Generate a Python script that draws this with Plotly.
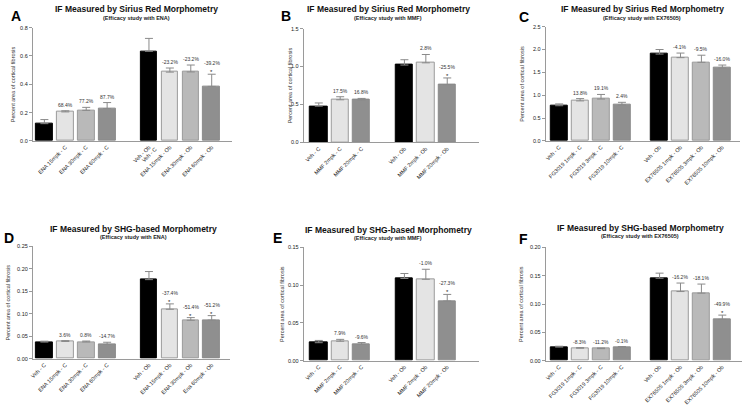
import plotly.graph_objects as go

W, H = 742, 409
FONT = "Liberation Sans, Arial, sans-serif"

# ---------------- data ----------------
a_labels = ["Veh - C", "ENA 15mpk - C", "ENA 30mpk - C", "ENA 60mpk - C",
            "Veh - Ob", "ENA 15mpk - Ob", "ENA 30mpk - Ob", "ENA 60mpk - Ob"]
a_means = [0.122, 0.205, 0.216, 0.229, 0.633, 0.486, 0.487, 0.385]
a_sem = [0.029, 0.008, 0.021, 0.042, 0.091, 0.029, 0.049, 0.086]
a_pct = ["", "68.4%", "77.2%", "87.7%", "", "-23.2%", "-23.2%", "-39.2%"]
a_sig = [0, 0, 0, 0, 0, 0, 0, 1]

b_labels = ["Veh - C", "MMF 2mpk - C", "MMF 20mpk - C",
            "Veh - Ob", "MMF 2mpk - Ob", "MMF 20mpk - Ob"]
b_means = [0.478, 0.562, 0.558, 1.020, 1.049, 0.760]
b_sem = [0.042, 0.040, 0.022, 0.070, 0.110, 0.090]
b_pct = ["", "17.5%", "16.8%", "", "2.8%", "-25.5%"]
b_sig = [0, 0, 0, 0, 0, 1]

c_labels = ["Veh - C", "FG3019 1mpk - C", "FG3019 3mpk - C", "FG3019 10mpk - C",
            "Veh - Ob", "EX76505 1mpk - Ob", "EX76505 3mpk - Ob", "EX76505 10mpk - Ob"]
c_means = [0.770, 0.876, 0.917, 0.788, 1.900, 1.822, 1.720, 1.596]
c_sem = [0.040, 0.050, 0.100, 0.057, 0.100, 0.100, 0.155, 0.064]
c_pct = ["", "13.8%", "19.1%", "2.4%", "", "-4.1%", "-9.5%", "-16.0%"]
c_sig = [0, 0, 0, 0, 0, 0, 0, 0]

d_labels = ["Veh - C", "ENA 15mpk - C", "ENA 30mpk - C", "ENA 60mpk - C",
            "Veh - Ob", "ENA 15mpk - Ob", "ENA 30mpk - Ob", "Ena 60mpk - Ob"]
d_means = [0.0370, 0.0383, 0.0373, 0.0316, 0.176, 0.110, 0.0855, 0.0859]
d_sem = [0.0020, 0.0020, 0.0020, 0.0050, 0.018, 0.012, 0.0060, 0.0100]
d_pct = ["", "3.6%", "0.8%", "-14.7%", "", "-37.4%", "-51.4%", "-51.2%"]
d_sig = [0, 0, 0, 0, 0, 1, 1, 1]

e_labels = ["Veh - C", "MMF 2mpk - C", "MMF 20mpk - C",
            "Veh - Ob", "MMF 2mpk - Ob", "MMF 20mpk - Ob"]
e_means = [0.0238, 0.0257, 0.0215, 0.1088, 0.1077, 0.0790]
e_sem = [0.0030, 0.0025, 0.0025, 0.0066, 0.0133, 0.0087]
e_pct = ["", "7.9%", "-9.6%", "", "-1.0%", "-27.3%"]
e_sig = [0, 0, 0, 0, 0, 1]

f_labels = ["Veh - C", "FG3019 1mpk - C", "FG3019 3mpk - C", "FG3019 10mpk - C",
            "Veh - Ob", "EX76505 1mpk - Ob", "EX76505 3mpk - Ob", "EX76505 10mpk - Ob"]
f_means = [0.0240, 0.0220, 0.0213, 0.0240, 0.1455, 0.1220, 0.1192, 0.0729]
f_sem = [0.0015, 0.0010, 0.0010, 0.0010, 0.0090, 0.0150, 0.0160, 0.0075]
f_pct = ["", "-8.3%", "-11.2%", "-0.1%", "", "-16.2%", "-18.1%", "-49.9%"]
f_sig = [0, 0, 0, 0, 0, 0, 0, 1]

titles = ["IF Measured by Sirius Red Morphometry"] * 3 + ["IF Measured by SHG-based Morphometry"] * 3
subtitles = ["(Efficacy study with ENA)", "(Efficacy study with MMF)", "(Efficacy study with EX76505)",
             "(Efficacy study with ENA)", "(Efficacy study with MMF)", "(Efficacy study with EX76505)"]
letters = ["A", "B", "C", "D", "E", "F"]
y_title = "Percent area of cortical fibrosis"
y_max = [0.8, 1.5, 2.5, 0.25, 0.15, 0.20]
y_dtick = [0.2, 0.5, 0.5, 0.05, 0.05, 0.05]
y_fmt = [".1f", ".1f", ".1f", ".2f", ".2f", ".2f"]

data = [
    (a_labels, a_means, a_sem, a_pct, a_sig, 4),
    (b_labels, b_means, b_sem, b_pct, b_sig, 3),
    (c_labels, c_means, c_sem, c_pct, c_sig, 4),
    (d_labels, d_means, d_sem, d_pct, d_sig, 4),
    (e_labels, e_means, e_sem, e_pct, e_sig, 3),
    (f_labels, f_means, f_sem, f_pct, f_sig, 4),
]

# ---------------- layout geometry (pixels) ----------------
# x0, x1, ytop, ybottom, range_left, pitch, group gap
geom = [
    (30, 230, 25, 140, -0.55, 21.0, 1.0),
    (302, 478, 26, 141.5, -0.70, 21.5, 1.0),
    (545, 740, 24, 140, -0.64, 21.0, 0.8),
    (30, 228, 247, 361, -0.55, 21.0, 1.0),
    (302, 478, 248, 363, -0.70, 21.5, 1.0),
    (545, 742, 248, 363, -0.64, 21.0, 0.8),
]
title_pos = [(134, 6, 15), (387, 6, 15), (642, 6, 15),
             (131, 229.5, 237), (387, 230, 238), (640, 228.5, 236.5)]
letter_pos = [(13.5, 13), (284, 13), (523, 14), (6, 238), (276, 239), (523, 240)]
ylab_x = [10, 288, 521, 5, 280, 520]

FILL4 = ["#000000", "#e4e4e4", "#b9b9b9", "#8f8f8f"]
FILL3 = ["#000000", "#e4e4e4", "#8f8f8f"]
EDGE4 = ["#000000", "#9a9a9a", "#9a9a9a", "#8a8a8a"]
EDGE3 = ["#000000", "#9a9a9a", "#8a8a8a"]


def fx(p):
    return p / W


def fy(p):
    return 1 - p / H


fig = go.Figure()
annotations = []
layout = {}

for i, (labels, means, sem, pct, sig, n_c) in enumerate(data):
    x0, x1, yt, yb, left, pitch, gap = geom[i]
    n_ob = len(labels) - n_c
    xs = list(range(n_c)) + [n_c + gap + k for k in range(n_ob)]
    fills = (FILL4 if n_c == 4 else FILL3)
    edges = (EDGE4 if n_c == 4 else EDGE3)
    colors = fills[:n_c] + fills[:n_ob]
    lines = edges[:n_c] + edges[:n_ob]
    suf = "" if i == 0 else str(i + 1)
    xa, ya = "x" + suf, "y" + suf
    fig.add_trace(go.Bar(
        x=xs, y=means, width=0.8, xaxis=xa, yaxis=ya,
        marker=dict(color=colors, line=dict(color=lines, width=1)),
        error_y=dict(type="data", array=sem, arrayminus=[0] * len(sem), symmetric=False,
                     color="#8a8a8a", thickness=1, width=4),
        showlegend=False, hoverinfo="skip"))
    right = left + (x1 - x0) / pitch
    ticktext = list(labels)
    if i == 0:
        ticktext[0] = ""
    layout["xaxis" + suf] = dict(
        domain=[fx(x0), fx(x1)], range=[left, right], anchor=ya,
        showline=True, linecolor="#9a9a9a", linewidth=1, ticks="",
        tickvals=xs, ticktext=ticktext, tickangle=-45,
        tickfont=dict(size=5.5, color="#222", family=FONT),
        showgrid=False, zeroline=False, fixedrange=True)
    layout["yaxis" + suf] = dict(
        domain=[fy(yb), fy(yt)], range=[0, y_max[i]], anchor=xa,
        showline=True, linecolor="#9a9a9a", linewidth=1, ticks="outside",
        ticklen=3, tickcolor="#9a9a9a", tickwidth=1, dtick=y_dtick[i], tick0=0,
        tickformat=y_fmt[i], tickfont=dict(size=5.5, color="#222", family=FONT),
        showgrid=False, zeroline=False, fixedrange=True)

    for k in range(len(labels)):
        top = means[k] + sem[k]
        if sig[k]:
            annotations.append(dict(x=xs[k], y=top, xref=xa, yref=ya, text="*",
                                    showarrow=False, yanchor="bottom", yshift=-3,
                                    font=dict(size=6, color="#222", family=FONT)))
        if pct[k]:
            annotations.append(dict(x=xs[k], y=top, xref=xa, yref=ya, text=pct[k],
                                    showarrow=False, yanchor="bottom",
                                    yshift=6 if sig[k] else 1,
                                    font=dict(size=5, color="#333", family=FONT)))

    tx, ty, sy = title_pos[i]
    annotations.append(dict(x=fx(tx), y=fy(ty), xref="paper", yref="paper",
                            text="<b>" + titles[i] + "</b>", showarrow=False,
                            xanchor="center", yanchor="middle",
                            font=dict(size=8.5, color="#111", family=FONT)))
    annotations.append(dict(x=fx(tx), y=fy(sy), xref="paper", yref="paper",
                            text="<b>" + subtitles[i] + "</b>", showarrow=False,
                            xanchor="center", yanchor="middle",
                            font=dict(size=5.5, color="#222", family=FONT)))
    lx, ly = letter_pos[i]
    annotations.append(dict(x=fx(lx), y=fy(ly), xref="paper", yref="paper",
                            text="<b>" + letters[i] + "</b>", showarrow=False,
                            xanchor="center", yanchor="middle",
                            font=dict(size=14, color="#000", family=FONT)))
    annotations.append(dict(x=fx(ylab_x[i]), y=fy((yt + yb) / 2), xref="paper", yref="paper",
                            text=y_title, textangle=-90, showarrow=False,
                            xanchor="center", yanchor="middle",
                            font=dict(size=5.5, color="#333", family=FONT)))

# overlapping "Veh - C" label in panel A (drawn under the Veh - Ob bar, as in the original)
x0, x1, yt, yb, left, pitch, gap = geom[0]
veh_ob_pos = 4 + gap
fig.add_trace(go.Scatter(x=[veh_ob_pos + 0.3], y=[0], xaxis="x7", yaxis="y",
                         mode="markers", marker=dict(opacity=0), showlegend=False,
                         hoverinfo="skip"))
layout["xaxis7"] = dict(domain=[fx(x0), fx(x1)], range=[left, left + (x1 - x0) / pitch],
                        anchor="y", overlaying="x", side="bottom", showline=False,
                        ticks="", tickvals=[veh_ob_pos + 0.3], ticktext=[a_labels[0]],
                        tickangle=-45, ticklabelstandoff=3,
                        tickfont=dict(size=5.5, color="#222", family=FONT),
                        showgrid=False, zeroline=False, fixedrange=True)

fig.update_layout(**layout)
fig.update_layout(width=W, height=H, margin=dict(l=0, r=0, t=0, b=0),
                  paper_bgcolor="white", plot_bgcolor="white",
                  annotations=annotations, bargap=0,
                  font=dict(family=FONT))
fig.write_html("out.html", config={"displayModeBar": False},
               post_script="document.body.style.margin='0px';document.body.style.overflow='hidden';")
